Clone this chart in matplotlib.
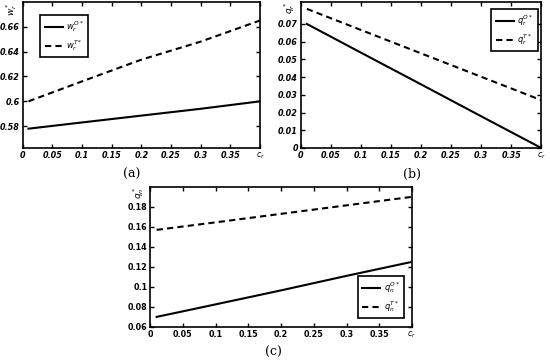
import numpy as np
import matplotlib
matplotlib.use("Agg")
from matplotlib import pyplot as plt
from matplotlib.ticker import FixedLocator, FuncFormatter

# valeurs
cr = [0.01, 0.1, 0.2, 0.3, 0.4]

w_O = [0.578, 0.583, 0.5885, 0.594, 0.600]
w_T = [0.600, 0.616, 0.6335, 0.648, 0.665]

q_r_O = [0.0700, 0.0538, 0.0359, 0.0179, 0.0]
q_r_T = [0.0785, 0.0666, 0.0534, 0.0402, 0.0270]

q_n_O = [0.070, 0.0825, 0.0965, 0.111, 0.125]
q_n_T = [0.157, 0.1645, 0.173, 0.1815, 0.190]

xticks = [0, 0.05, 0.1, 0.15, 0.2, 0.25, 0.3, 0.35, 0.4]

plt.rcParams['font.family'] = 'DejaVu Sans'
plt.rcParams['mathtext.fontset'] = 'dejavusans'

fig = plt.figure(figsize=(5.5, 3.6), dpi=100)

def panneau(pos, ylim, yticks, ylab, s1, s2, lab1, lab2, loc, anchor, italic=True):
    ax = fig.add_axes(pos)
    ax.plot(cr, s1, color='black', lw=1.5, label=lab1)
    ax.plot(cr, s2, color='black', lw=1.5, ls=(0, (3, 2)), label=lab2)
    ax.set_xlim(0, 0.4)
    ax.set_ylim(*ylim)
    ax.xaxis.set_major_locator(FixedLocator(xticks))
    ax.xaxis.set_major_formatter(FuncFormatter(
        lambda v, p: r'$c_r$' if abs(v - 0.4) < 1e-9 else '%g' % v))
    ax.yaxis.set_major_locator(FixedLocator(yticks))
    ax.yaxis.set_major_formatter(FuncFormatter(
        lambda v, p: '%g' % round(v, 4)))
    ax.tick_params(direction='in', length=3, width=1, top=True, right=True,
                   labelsize=5.8, pad=2)
    for t in ax.get_xticklabels() + ax.get_yticklabels():
        t.set_fontweight('bold')
        if italic:
            t.set_fontstyle('italic')
    for s in ax.spines.values():
        s.set_linewidth(1.2)
    ax.text(-0.045, 1.0, ylab, transform=ax.transAxes, rotation=90,
            ha='center', va='top', fontsize=6.5, fontstyle='italic')
    leg = ax.legend(loc=loc, bbox_to_anchor=anchor, fontsize=6,
                    handlelength=2.2, handletextpad=0.4, fancybox=False,
                    edgecolor='black', framealpha=1, borderpad=0.5,
                    labelspacing=0.5, borderaxespad=0)
    leg.get_frame().set_linewidth(1.2)
    return ax

panneau([0.041, 0.589, 0.432, 0.406], (0.5625, 0.68),
         [0.58, 0.6, 0.62, 0.64, 0.66], r'$w_r^*$', w_O, w_T,
         r'$w_r^{O*}$', r'$w_r^{T*}$', 'upper left', (0.075, 0.91))
panneau([0.547, 0.589, 0.437, 0.406], (0, 0.0825),
         [0, 0.01, 0.02, 0.03, 0.04, 0.05, 0.06, 0.07], r'$q_r^*$',
         q_r_O, q_r_T, r'$q_r^{O*}$', r'$q_r^{T*}$', 'upper right', (0.985, 0.95))
panneau([0.273, 0.092, 0.476, 0.389], (0.06, 0.2),
         [0.06, 0.08, 0.1, 0.12, 0.14, 0.16, 0.18], r'$q_n^*$',
         q_n_O, q_n_T, r'$q_n^{O*}$', r'$q_n^{T*}$', 'lower right', (0.97, 0.06),
         italic=False)

fig.text(0.24, 0.515, '(a)', ha='center', va='center', fontsize=9, family='DejaVu Serif')
fig.text(0.749, 0.515, '(b)', ha='center', va='center', fontsize=9, family='DejaVu Serif')
fig.text(0.497, 0.022, '(c)', ha='center', va='center', fontsize=9, family='DejaVu Serif')

fig.savefig('out.png', dpi=100)
